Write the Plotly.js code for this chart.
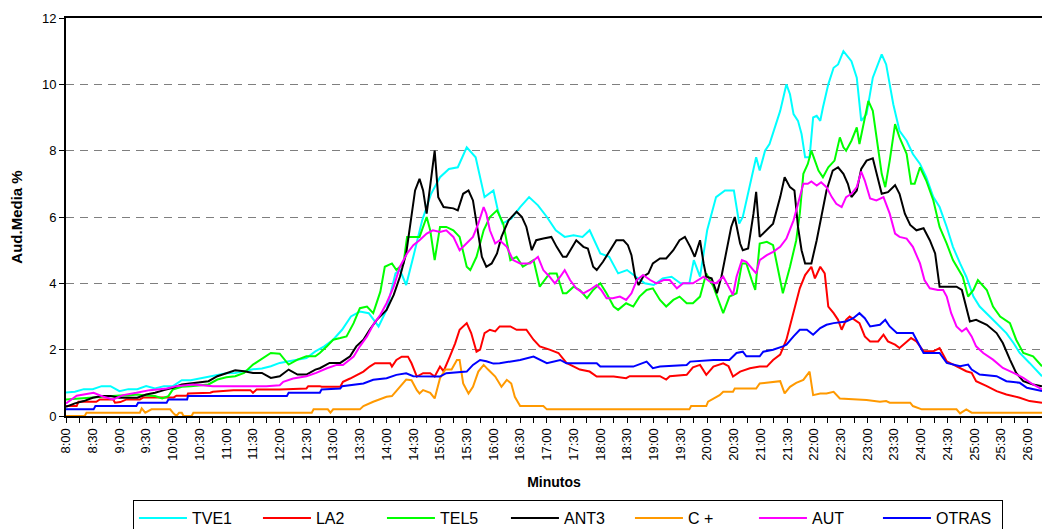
<!DOCTYPE html>
<html>
<head>
<meta charset="utf-8">
<script src="https://cdn.plot.ly/plotly-3.0.1.min.js"></script>
<style>html,body{margin:0;padding:0;background:#fff;}#chart{width:1042px;height:529px;}</style>
</head>
<body>
<div id="chart"></div>
<script>
// Minutes after 8:00 and audience share (%)
const timeLabels = ['8:00','8:30','9:00','9:30','10:00','10:30','11:00','11:30','12:00','12:30','13:00','13:30','14:00','14:30','15:00','15:30','16:00','16:30','17:00','17:30','18:00','18:30','19:00','19:30','20:00','20:30','21:00','21:30','22:00','22:30','23:00','23:30','24:00','24:30','25:00','25:30','26:00'];

const seriesNames = ['TVE1','LA2','TEL5','ANT3','C +','AUT','OTRAS'];
const seriesColors = ['#00FFFF','#FF0000','#00FF00','#000000','#FF9900','#FF00FF','#0000FF'];

const tve1Min = [0,10,20,30,40,50,60,70,80,90,100,110,120,130,140,150,160,170,180,190,200,210,220,230,240,250,260,270,280,290,300,310,320,330,340,351,360,370,375,382,390,400,410,420,430,440,450,460,470,480,485,490,500,510,520,530,540,550,560,570,580,588,600,610,620,630,640,650,660,670,680,690,700,705,712,720,730,740,750,756,760,770,775,779,785,790,795,802,809,813,817,822,826,830,835,839,843,847,850,856,862,867,873,876,882,888,893,899,906,916,921,929,936,944,951,959,966,974,981,989,996,1004,1011,1019,1026,1041,1056,1064,1071,1082,1096];
const tve1Val = [0.71,0.73,0.81,0.81,0.9,0.9,0.75,0.81,0.81,0.9,0.83,0.9,0.9,1.08,1.08,1.13,1.17,1.24,1.29,1.3,1.35,1.41,1.43,1.5,1.6,1.65,1.7,1.75,1.95,2.1,2.3,2.6,3.0,3.15,3.1,2.7,3.2,4.3,4.4,3.95,4.8,5.9,6.7,7.2,7.45,7.5,8.1,7.8,6.6,6.8,6.2,5.8,5.95,6.3,6.6,6.35,6.0,5.6,5.4,5.45,5.4,5.6,4.9,4.8,4.3,4.4,4.2,4.0,3.95,4.15,4.2,4.0,4.0,4.7,4.2,5.6,6.6,6.8,6.8,5.8,6.0,7.2,7.8,7.4,8.0,8.2,8.6,9.2,10.0,9.7,9.1,8.9,8.5,7.8,7.8,9.0,9.05,8.9,9.3,10.0,10.5,10.6,11.0,10.9,10.7,10.2,8.9,9.1,10.2,10.9,10.6,9.4,8.6,8.3,7.9,7.6,7.2,6.6,6.3,5.7,5.1,4.6,4.2,3.6,3.3,2.9,2.5,2.2,1.9,1.6,1.2];

const la2Min = [0,12,14,34,38,53,55,61,68,83,87,121,124,136,137,162,165,188,207,210,214,240,270,272,285,287,308,311,319,326,334,341,347,364,366,371,377,384,388,394,401,409,414,420,424,431,437,442,450,455,461,465,470,476,482,487,499,506,517,525,532,543,553,562,570,577,588,596,615,629,633,667,674,678,697,704,712,719,727,738,744,749,757,768,779,787,794,802,809,817,824,830,837,841,847,852,856,862,867,871,876,880,886,891,897,903,912,918,923,931,936,942,949,955,963,974,981,989,996,1004,1011,1017,1022,1034,1045,1056,1071,1082,1096];
const la2Val = [0.3,0.3,0.43,0.43,0.5,0.5,0.4,0.42,0.5,0.5,0.56,0.56,0.61,0.61,0.68,0.7,0.73,0.78,0.78,0.7,0.8,0.8,0.83,0.9,0.9,0.88,0.88,1.03,1.13,1.24,1.34,1.49,1.59,1.59,1.49,1.69,1.79,1.79,1.59,1.19,1.29,1.29,1.19,1.49,1.35,1.79,2.19,2.6,2.8,2.5,1.94,2.0,2.5,2.6,2.55,2.7,2.7,2.6,2.6,2.3,2.1,2.0,1.9,1.6,1.5,1.4,1.34,1.19,1.19,1.14,1.2,1.2,1.1,1.2,1.24,1.47,1.54,1.24,1.49,1.59,1.5,1.19,1.34,1.44,1.49,1.49,1.69,1.85,2.3,3.1,3.85,4.25,4.5,4.15,4.5,4.3,3.3,3.1,2.9,2.6,2.9,3.0,2.9,2.8,2.4,2.25,2.25,2.45,2.25,2.15,2.05,2.2,2.35,2.25,1.95,1.95,2.05,1.65,1.55,1.45,1.35,1.3,1.05,0.9,0.75,0.65,0.55,0.45,0.4];

const tel5Min = [0,10,20,30,40,50,60,70,80,90,100,108,115,120,130,140,150,160,170,180,190,200,210,220,230,240,250,260,270,280,285,293,300,308,315,323,330,338,345,353,358,366,371,379,383,397,405,409,414,420,427,435,442,450,454,461,469,476,484,491,499,506,513,525,532,543,551,558,562,570,577,585,592,600,607,615,620,629,637,644,652,659,667,674,682,689,697,704,712,716,719,727,734,738,745,753,759,764,770,774,779,787,794,800,805,813,820,824,828,833,837,841,845,850,856,863,869,873,876,882,888,891,897,901,906,910,916,920,925,931,936,944,949,953,959,966,974,981,989,996,1007,1013,1019,1024,1034,1041,1049,1060,1067,1075,1086,1096];
const tel5Val = [0.5,0.52,0.55,0.58,0.6,0.6,0.62,0.62,0.65,0.62,0.6,0.53,0.6,0.8,0.88,0.9,0.93,0.95,1.1,1.17,1.2,1.3,1.55,1.72,1.9,1.88,1.55,1.7,1.8,1.8,1.9,2.1,2.3,2.35,2.4,2.8,3.25,3.3,3.1,3.75,4.5,4.6,4.4,4.6,5.4,5.4,6.0,5.6,4.7,5.7,5.7,5.6,5.4,4.5,4.4,4.8,5.6,6.0,6.2,5.8,4.7,4.8,4.5,4.7,3.9,4.3,4.3,3.7,3.7,3.9,3.8,3.55,3.8,4.0,3.7,3.3,3.2,3.4,3.3,3.6,3.8,3.85,3.5,3.3,3.5,3.6,3.4,3.4,3.6,4.0,4.3,3.9,3.4,3.1,3.6,3.7,4.6,4.6,4.1,3.8,5.2,5.25,5.15,4.4,3.7,4.5,5.3,6.1,7.3,7.6,8.0,7.7,7.4,7.2,7.5,7.7,8.4,8.1,8.0,8.3,8.7,8.2,9.0,9.5,9.2,8.4,7.3,6.9,7.7,8.8,8.4,7.9,7.0,7.0,7.5,7.1,6.5,5.7,5.2,4.7,4.2,3.6,3.8,4.1,3.8,3.3,3.0,2.8,2.3,1.9,1.8,1.5];

const ant3Min = [0,10,20,30,40,50,60,70,80,90,100,110,120,130,140,150,160,170,180,190,200,210,220,230,240,250,260,270,280,285,296,308,319,326,334,341,349,360,368,375,382,388,392,397,401,405,410,414,418,424,435,440,446,452,457,463,467,472,478,484,489,497,506,512,517,523,528,536,545,551,558,562,568,573,581,586,592,596,603,611,618,626,631,635,639,643,648,654,659,667,674,682,689,695,701,706,712,716,719,725,731,736,742,747,751,757,760,766,772,775,779,787,794,802,807,813,818,822,826,830,837,843,848,854,861,867,873,878,882,888,893,899,906,912,916,923,931,936,942,948,955,963,970,976,979,981,989,1000,1006,1011,1015,1022,1034,1045,1052,1060,1067,1075,1086,1096];
const ant3Val = [0.28,0.38,0.45,0.55,0.6,0.6,0.55,0.55,0.55,0.65,0.7,0.78,0.85,0.95,0.98,1.0,1.05,1.2,1.3,1.38,1.35,1.3,1.3,1.15,1.2,1.4,1.25,1.25,1.4,1.44,1.6,1.6,1.8,2.1,2.3,2.6,2.9,3.2,3.65,4.2,4.9,6.0,6.8,7.15,6.8,6.1,7.1,8.0,6.6,6.3,6.26,6.2,6.7,6.8,6.5,5.4,4.8,4.5,4.6,4.9,5.4,5.9,6.16,6.0,5.7,5.0,5.3,5.35,5.4,5.1,4.8,4.8,5.05,5.3,5.1,5.05,4.5,4.4,4.65,5.0,5.3,5.3,5.15,4.85,4.2,3.95,4.2,4.3,4.6,4.75,4.75,5.0,5.3,5.4,5.1,4.8,5.3,4.6,4.2,4.15,3.7,4.2,5.0,5.7,6.0,5.2,5.0,5.05,6.1,6.76,5.4,5.6,5.8,6.6,7.2,6.9,6.8,5.7,5.0,4.6,4.6,5.3,6.0,6.8,7.4,7.5,7.3,7.0,6.6,6.8,7.45,7.7,7.77,7.1,6.7,6.75,6.96,6.7,6.1,5.76,5.6,5.66,5.3,4.9,4.3,3.9,3.9,3.9,3.8,3.3,2.85,2.9,2.75,2.5,2.2,1.7,1.3,1.05,0.95,0.9];

const cplusMin = [0,21,23,83,85,89,96,117,120,124,127,130,132,141,143,276,278,294,297,300,330,334,345,360,366,375,382,388,394,397,401,409,414,420,426,433,439,442,446,452,457,463,469,474,482,489,495,500,504,510,536,540,700,702,719,721,727,734,738,749,751,775,779,802,807,813,820,828,835,839,847,854,862,869,899,914,921,925,948,951,961,1000,1004,1011,1017,1096];
const cplusVal = [0,0,0.1,0.1,0.23,0.1,0.2,0.2,0.1,0,0.1,0.1,0,0,0.1,0.1,0.2,0.2,0.1,0.2,0.2,0.3,0.43,0.58,0.6,0.88,1.1,1.08,0.78,0.68,0.78,0.7,0.53,1.14,1.4,1.4,1.69,1.69,0.98,0.68,0.88,1.34,1.54,1.4,1.19,0.88,1.09,0.98,0.58,0.3,0.3,0.2,0.2,0.3,0.3,0.43,0.53,0.63,0.73,0.73,0.83,0.83,0.98,1.05,0.68,0.88,1.0,1.09,1.34,0.63,0.68,0.68,0.73,0.53,0.48,0.43,0.45,0.4,0.4,0.3,0.2,0.2,0.08,0.2,0.1,0.1];

const autMin = [0,12,31,42,53,64,79,94,113,124,143,165,188,225,240,244,255,270,281,293,304,311,323,330,338,345,353,360,368,375,383,390,397,405,412,420,427,435,442,450,457,463,469,472,476,482,487,495,502,510,521,530,536,543,549,555,560,566,573,581,588,596,601,607,614,622,629,635,641,648,656,663,671,678,686,693,704,716,723,730,738,744,749,753,759,764,772,775,779,787,794,802,809,817,822,828,833,837,843,848,854,860,865,871,876,882,888,893,897,903,910,918,925,931,936,944,951,959,964,970,979,985,989,994,1000,1006,1011,1017,1022,1030,1041,1052,1064,1075,1086,1096];
const autVal = [0.38,0.61,0.7,0.58,0.5,0.63,0.7,0.78,0.83,0.9,0.95,0.9,0.9,0.9,0.93,1.03,1.13,1.2,1.3,1.44,1.54,1.54,1.79,2.1,2.4,2.75,3.05,3.4,3.9,4.5,4.9,5.15,5.3,5.5,5.6,5.55,5.6,5.4,5.0,5.2,5.4,5.8,6.3,6.1,5.6,5.2,5.3,5.1,4.7,4.6,4.6,4.8,4.4,4.2,4.0,4.2,4.4,4.1,3.85,3.7,3.8,3.95,3.8,3.55,3.55,3.6,3.5,3.7,4.1,4.25,4.1,4.0,4.1,4.1,3.85,4.0,4.0,4.2,4.05,4.0,4.2,3.9,3.65,4.2,4.7,4.65,4.4,4.3,4.7,4.85,4.95,5.1,5.35,5.9,6.4,7.0,7.0,7.07,6.95,7.05,6.9,6.6,6.4,6.3,6.6,6.7,6.9,7.37,7.1,6.56,6.5,6.6,6.1,5.5,5.4,5.35,5.1,4.6,4.1,3.85,3.8,3.8,3.6,3.1,2.7,2.55,2.65,2.4,2.1,1.9,1.7,1.45,1.3,1.15,0.95,0.8];

const otrasMin = [0,31,33,79,81,113,115,136,137,248,250,285,287,308,310,334,345,360,371,382,390,420,427,450,457,465,472,480,487,510,525,532,540,555,562,596,600,637,652,659,667,697,701,727,745,753,760,764,779,783,794,805,809,817,824,832,839,847,854,862,876,884,891,897,903,914,920,925,933,951,955,963,981,989,1004,1013,1017,1026,1045,1056,1071,1079,1096];
const otrasVal = [0.2,0.2,0.3,0.3,0.4,0.4,0.5,0.5,0.6,0.6,0.7,0.7,0.8,0.83,0.9,0.98,1.09,1.14,1.24,1.29,1.2,1.19,1.29,1.34,1.54,1.69,1.65,1.58,1.59,1.69,1.79,1.7,1.59,1.69,1.59,1.59,1.49,1.49,1.64,1.44,1.49,1.54,1.64,1.69,1.69,1.9,1.94,1.8,1.8,1.94,2.0,2.1,2.15,2.4,2.6,2.6,2.45,2.65,2.75,2.8,2.85,2.95,3.1,2.95,2.7,2.75,2.9,2.7,2.5,2.5,2.3,1.9,1.9,1.6,1.5,1.55,1.4,1.25,1.2,1.05,1.0,0.85,0.75];

const seriesMin = [tve1Min, la2Min, tel5Min, ant3Min, cplusMin, autMin, otrasMin];
const seriesVal = [tve1Val, la2Val, tel5Val, ant3Val, cplusVal, autVal, otrasVal];

const traces = seriesNames.map((name, i) => ({
  type: 'scatter', mode: 'lines', name: name,
  x: seriesMin[i], y: seriesVal[i],
  line: {color: seriesColors[i], width: 2},
  hoverinfo: 'skip'
}));

// ticks every 15 minutes, labels every 30 minutes
const tickVals = [], tickText = [];
timeLabels.forEach((lab, k) => {
  tickVals.push(k * 30); tickText.push(lab);
  if (k < timeLabels.length - 1) { tickVals.push(k * 30 + 15); tickText.push(''); }
});

const FONT = 'Liberation Sans, Arial, sans-serif';
const layout = {
  width: 1042, height: 529,
  margin: {l: 66, r: 0, t: 18, b: 113, autoexpand: false},
  paper_bgcolor: '#ffffff', plot_bgcolor: '#ffffff',
  font: {family: FONT, color: '#000000', size: 12},
  showlegend: true,
  legend: {
    orientation: 'h', x: 0.0686, xanchor: 'left', y: -0.211, yanchor: 'top',
    bordercolor: '#000000', borderwidth: 1, bgcolor: '#ffffff',
    font: {family: FONT, size: 16, color: '#000000'}, itemwidth: 48,
    entrywidth: 61, entrywidthmode: 'pixels',
    traceorder: 'normal'
  },
  xaxis: {
    range: [0, 1096], tickmode: 'array', tickvals: tickVals, ticktext: tickText,
    tickangle: -90, ticks: 'outside', ticklen: 5, tickwidth: 1, tickcolor: '#000000',
    showline: true, linewidth: 2, linecolor: '#000000', mirror: true,
    showgrid: false, zeroline: false,
    tickfont: {family: FONT, size: 13, color: '#000000'},
    title: {text: 'Minutos', font: {family: FONT, size: 14, weight: 'bold', color: '#000000'}, standoff: 17}
  },
  yaxis: {
    range: [0, 12], tick0: 0, dtick: 2, ticks: 'outside', ticklen: 5, tickwidth: 1, tickcolor: '#000000',
    showline: true, linewidth: 2, linecolor: '#000000',
    showgrid: true, gridcolor: '#7f7f7f', gridwidth: 1, griddash: '8px,6px',
    zeroline: false,
    tickfont: {family: FONT, size: 13, color: '#000000'},
    title: {text: 'Aud.Media %', font: {family: FONT, size: 15, weight: 'bold', color: '#000000'}, standoff: 16}
  }
};

Plotly.newPlot('chart', traces, layout, {displayModeBar: false, staticPlot: true});
</script>
</body>
</html>
